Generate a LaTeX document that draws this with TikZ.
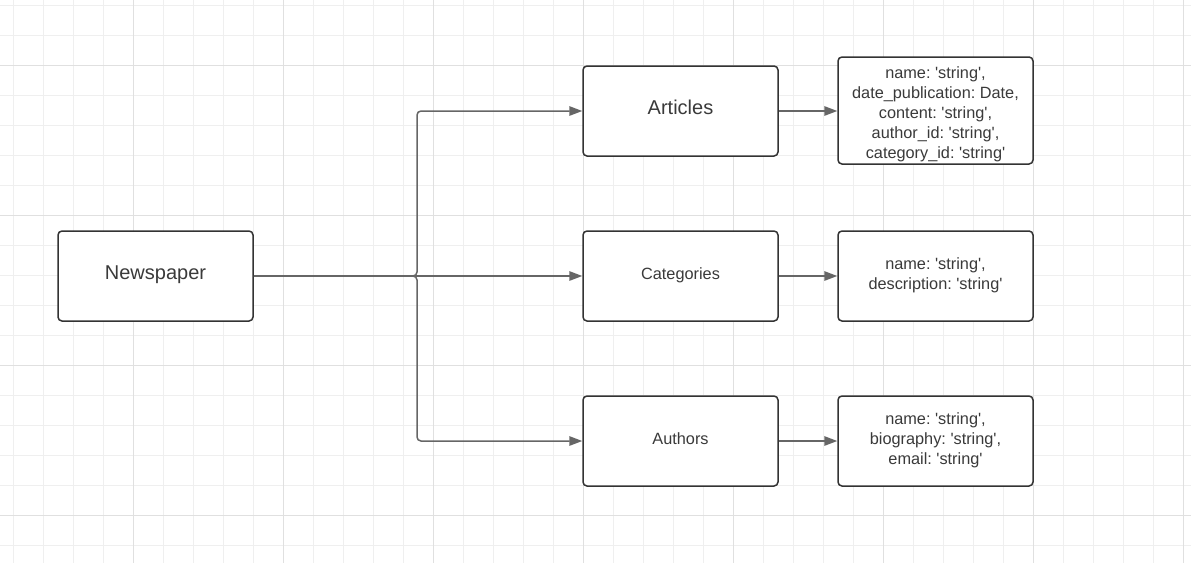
\documentclass[tikz,border=0pt]{standalone}
\usepackage{fontspec}
\setmainfont{Liberation Sans}
\usetikzlibrary{arrows.meta}
\definecolor{gridminor}{HTML}{EFEFEF}
\definecolor{gridmajor}{HTML}{E0E0E0}
\definecolor{boxline}{HTML}{333333}
\definecolor{connline}{HTML}{666666}
\definecolor{txt}{HTML}{3A3A3A}
\newcommand{\q}{\textquotesingle}
\newcommand{\lift}[2]{\raisebox{#1}[\height][\depth]{#2}}
\newcommand{\lines}[2]{\raisebox{#1}[\height][\depth]{\begin{tabular}{@{}c@{}}#2\end{tabular}}}
\tikzset{
  entity/.style={draw=boxline, line width=1.5pt, rounded corners=4pt, minimum width=195pt, minimum height=90pt, inner sep=0pt, align=center, text=txt, fill=white},
  bigtxt/.style={font=\fontsize{20}{24}\selectfont\frenchspacing},
  smalltxt/.style={font=\fontsize{16.3}{20}\selectfont\frenchspacing},
  conn/.style={draw=connline, line width=1.5pt, -{Triangle[length=13pt,width=9.5pt]}, rounded corners=4pt}
}
\begin{document}
\begin{tikzpicture}[x=1pt,y=-1pt]
\useasboundingbox (0,0) rectangle (1191,563);
\fill[white] (0,0) rectangle (1191,563);
% grid
\foreach \i in {0,...,39} {
  \pgfmathsetmacro{\gx}{13+30*\i}
  \draw[gridminor, line width=0.7pt] (\gx,0) -- (\gx,563);
}
\foreach \j in {0,...,18} {
  \pgfmathsetmacro{\gy}{5+30*\j}
  \draw[gridminor, line width=0.7pt] (0,\gy) -- (1191,\gy);
}
\foreach \gx in {133,283,433,583,733,883,1033,1183} \draw[gridmajor, line width=0.8pt] (\gx,0) -- (\gx,563);
\foreach \gy in {65,215,365,515} \draw[gridmajor, line width=0.8pt] (0,\gy) -- (1191,\gy);

% nodes
\node[entity, bigtxt] (np) at (155.5,276) {\lift{1pt}{Newspaper}};
\node[entity, bigtxt] (art) at (680.5,111) {\lift{3.5pt}{Articles}};
\node[entity, smalltxt] (cat) at (680.5,276) {\lift{1pt}{Categories}};
\node[entity, smalltxt] (aut) at (680.5,441) {\lift{2pt}{Authors}};
\node[entity, smalltxt, minimum height=107pt] (artA) at (935.5,110.5) {\lines{-4pt}{name: \q string\q,\\date\_publication: Date,\\content: \q string\q,\\author\_id: \q string\q,\\category\_id: \q string\q}};
\node[entity, smalltxt] (catA) at (935.5,276) {\lines{1pt}{name: \q string\q,\\description: \q string\q}};
\node[entity, smalltxt] (autA) at (935.5,441) {\lines{1pt}{name: \q string\q,\\biography: \q string\q,\\email: \q string\q}};

% connectors
\coordinate (j) at (417,276);
\draw[conn] (np.east) -- (j) |- (art.west);
\draw[conn] (np.east) -- (cat.west);
\draw[conn] (np.east) -- (j) |- (aut.west);
\draw[conn] (art.east) -- (artA.west |- art.east);
\draw[conn] (cat.east) -- (catA.west);
\draw[conn] (aut.east) -- (autA.west);
\end{tikzpicture}
\end{document}
